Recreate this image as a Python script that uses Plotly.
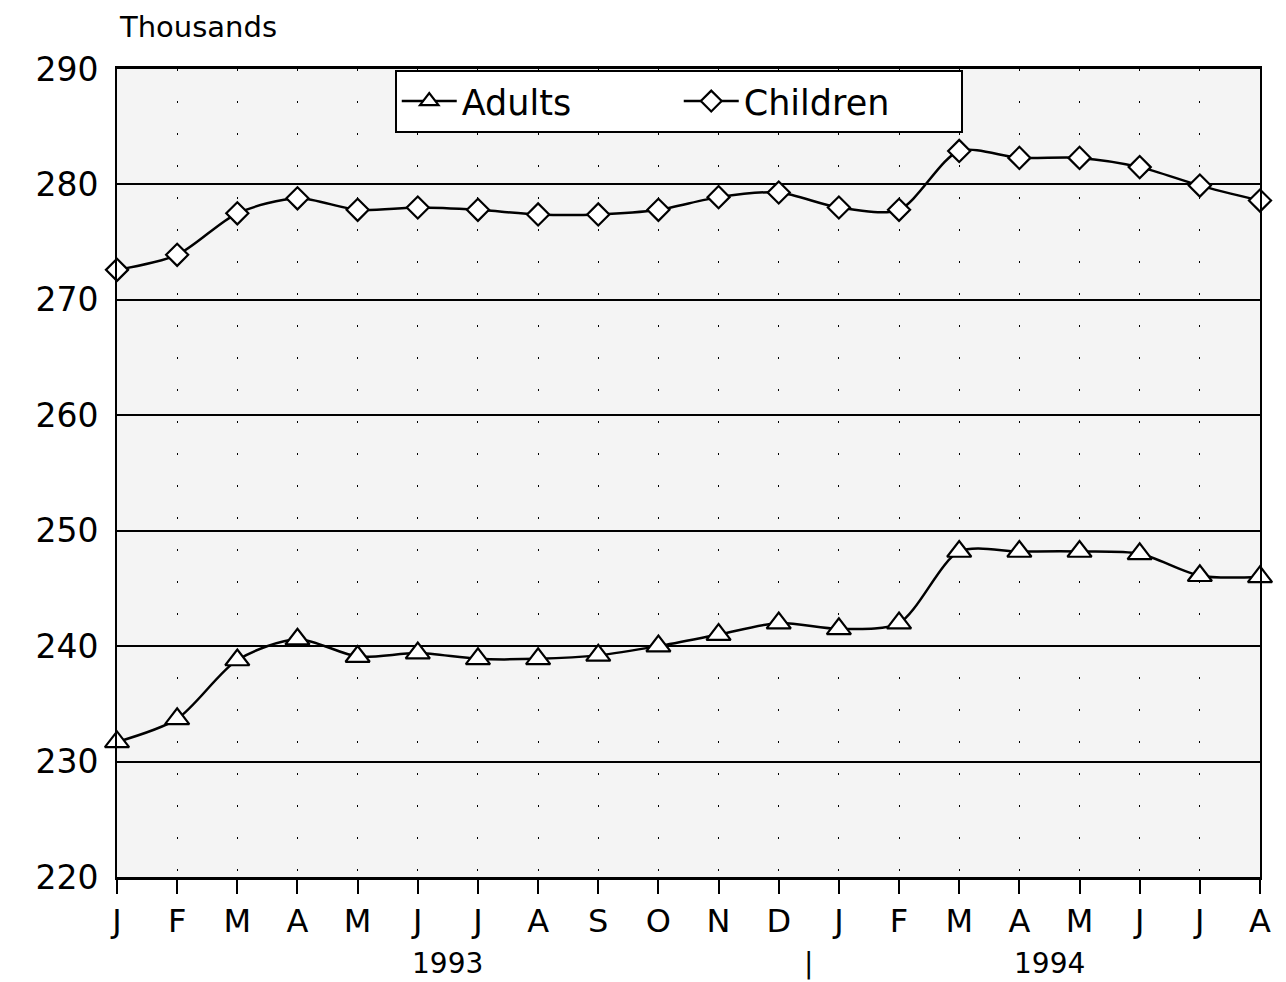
import plotly.graph_objects as go

# months Jan 1993 .. Aug 1994
MONTHS = ["1993-01", "1993-02", "1993-03", "1993-04", "1993-05", "1993-06",
          "1993-07", "1993-08", "1993-09", "1993-10", "1993-11", "1993-12",
          "1994-01", "1994-02", "1994-03", "1994-04", "1994-05", "1994-06",
          "1994-07", "1994-08"]
MONTH_LABELS = ["J", "F", "M", "A", "M", "J", "J", "A", "S", "O", "N", "D",
                "J", "F", "M", "A", "M", "J", "J", "A"]

# thousands
adults = [231.7, 233.7, 238.8, 240.6, 239.1, 239.4, 238.9, 238.9, 239.2, 240.0,
          241.0, 242.0, 241.5, 242.0, 248.2, 248.2, 248.2, 248.0, 246.1, 246.0]
children = [272.6, 273.9, 277.5, 278.8, 277.8, 278.0, 277.8, 277.4, 277.4, 277.8,
            278.9, 279.3, 278.0, 277.8, 282.9, 282.3, 282.3, 281.5, 279.9, 278.6]

FONT = "DejaVu Sans, Verdana, sans-serif"

fig = go.Figure()
fig.add_trace(go.Scatter(
    x=MONTHS, y=adults, name="Adults", mode="lines+markers",
    line=dict(color="black", width=2.5, shape="spline", smoothing=0.8),
    marker=dict(symbol="triangle-up", size=21, color="white",
                line=dict(color="black", width=2.2)),
    cliponaxis=False,
))
fig.add_trace(go.Scatter(
    x=MONTHS, y=children, name="Children", mode="lines+markers",
    line=dict(color="black", width=2.5, shape="spline", smoothing=0.8),
    marker=dict(symbol="diamond", size=17, color="white",
                line=dict(color="black", width=2.2)),
    cliponaxis=False,
))

# the page body adds an 8px margin, so the figure is sized/offset for that
fig.update_layout(
    width=1278, height=974,
    margin=dict(l=109, r=26, t=61, b=105),
    paper_bgcolor="white",
    plot_bgcolor="#f4f4f4",
    font=dict(family=FONT, size=30, color="black"),
    showlegend=True,
    legend=dict(
        orientation="h", x=0.243, y=0.999, xanchor="left", yanchor="top",
        bgcolor="white", bordercolor="black", borderwidth=2,
        font=dict(size=35), itemwidth=55, entrywidth=212,
    ),
)

fig.update_xaxes(
    type="category",
    range=[0, len(MONTHS) - 1],
    tickvals=MONTHS, ticktext=MONTH_LABELS,
    ticks="outside", ticklen=14, tickcolor="black", tickwidth=1.5,
    showgrid=True, gridcolor="black", gridwidth=1, griddash="2px,30px",
    showline=True, linecolor="black", linewidth=2.5, mirror=True,
    tickfont=dict(size=32),
    zeroline=False,
)
fig.update_yaxes(
    range=[220, 290], dtick=10,
    showgrid=True, gridcolor="black", gridwidth=1.8,
    showline=True, linecolor="black", linewidth=2, mirror=True,
    ticks="", ticklabelstandoff=10,
    tickfont=dict(size=33),
    zeroline=False,
)

fig.add_annotation(text="Thousands", xref="paper", yref="paper", x=0, y=1,
                   xanchor="left", yanchor="middle", yshift=42, showarrow=False,
                   font=dict(size=29))
for label, xpos in [("1993", 5.5), ("|", 11.5), ("1994", 15.5)]:
    fig.add_annotation(text=label, xref="x", yref="paper", x=xpos, y=0,
                       xanchor="center", yanchor="middle", yshift=-86,
                       showarrow=False, font=dict(size=28))

fig.write_html("out.html")
